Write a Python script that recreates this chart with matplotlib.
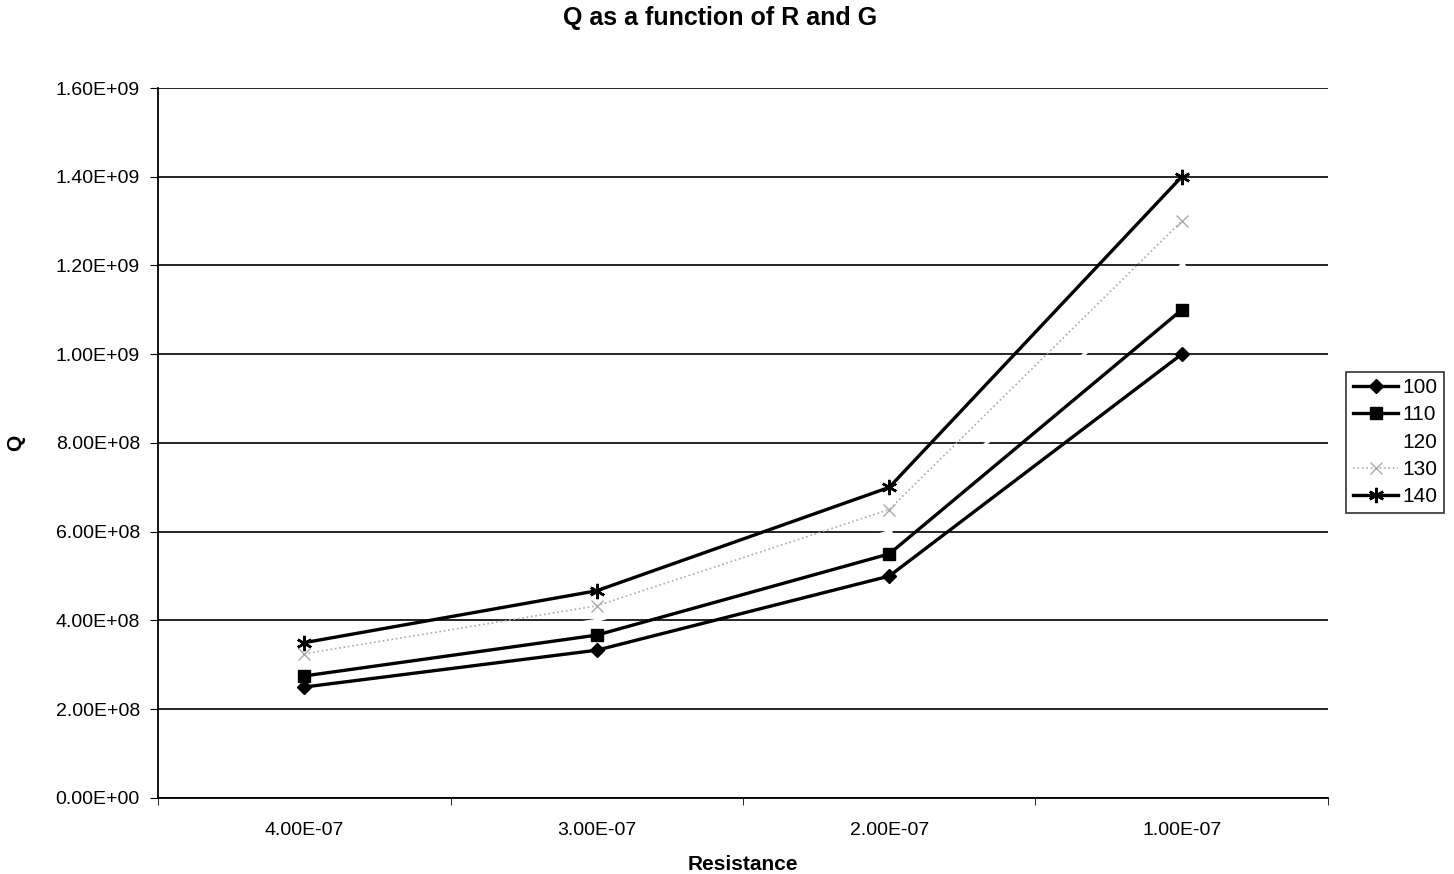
import numpy as np
import matplotlib.pyplot as plt
from matplotlib.ticker import FuncFormatter, FixedLocator

plt.rcParams['font.family'] = ['Liberation Sans', 'DejaVu Sans']

resistance = ['4.00E-07', '3.00E-07', '2.00E-07', '1.00E-07']
q_100 = [2.50e8, 3.33e8, 5.00e8, 1.00e9]
q_110 = [2.75e8, 3.67e8, 5.50e8, 1.10e9]
q_120 = [3.00e8, 4.00e8, 6.00e8, 1.20e9]
q_130 = [3.25e8, 4.33e8, 6.50e8, 1.30e9]
q_140 = [3.50e8, 4.67e8, 7.00e8, 1.40e9]

fig = plt.figure(figsize=(14.54, 8.74), dpi=100)
ax = fig.add_axes([0.1087, 0.087, 0.8046, 0.8123])
x = np.arange(len(resistance))

ax.plot(x, q_100, color='black', lw=2.4, marker='D', ms=7, label='100', zorder=4)
ax.plot(x, q_110, color='black', lw=2.4, marker='s', ms=8, label='110', zorder=4)
ax.plot(x, q_120, color='white', lw=2.4, marker='^', ms=7, label='120', zorder=3)
ax.plot(x, q_130, color='#aaaaaa', lw=1.2, ls=':', marker='x', ms=8,
        mew=1.0, label='130', zorder=4)
ax.plot(x, q_140, color='black', lw=2.4, marker=(6, 2, 0), ms=11, mew=1.8,
        label='140', zorder=4)

ax.set_xlim(-0.5, 3.5)
ax.set_ylim(0, 1.6e9)
ax.set_yticks(np.arange(0, 1.61e9, 2e8))
ax.yaxis.set_major_formatter(FuncFormatter(lambda v, p: '%.2E' % v))
ax.set_xticks(x)
ax.set_xticklabels(resistance)
ax.xaxis.set_minor_locator(FixedLocator(np.arange(-0.5, 3.6, 1)))
ax.tick_params(axis='x', which='major', length=0, pad=17, labelsize=14)
ax.tick_params(axis='x', which='minor', length=5, direction='out')
ax.tick_params(axis='y', length=6, labelsize=14, pad=7)

ax.grid(axis='y', color='black', lw=1.2, zorder=1)
ax.set_axisbelow(True)
for side in ['top', 'right']:
    ax.spines[side].set_visible(False)
ax.spines['left'].set_linewidth(1.3)
ax.spines['bottom'].set_linewidth(1.3)

fig.text(720 / 1454, 1 - 18 / 874, 'Q as a function of R and G',
         fontsize=18, fontweight='bold', ha='center', va='center')
ax.set_xlabel('Resistance', fontsize=15, fontweight='bold', labelpad=12)
ax.set_ylabel('Q', fontsize=15, fontweight='bold', labelpad=22)

leg = ax.legend(loc='center left', bbox_to_anchor=(0.926, 0.494),
                bbox_transform=fig.transFigure, frameon=True, fancybox=False,
                edgecolor='black', fontsize=15, handlelength=2.2,
                handletextpad=0.2, borderpad=0.3, labelspacing=0.4,
                borderaxespad=0)
leg.get_frame().set_linewidth(1.2)

fig.savefig('out.png', dpi=100)
